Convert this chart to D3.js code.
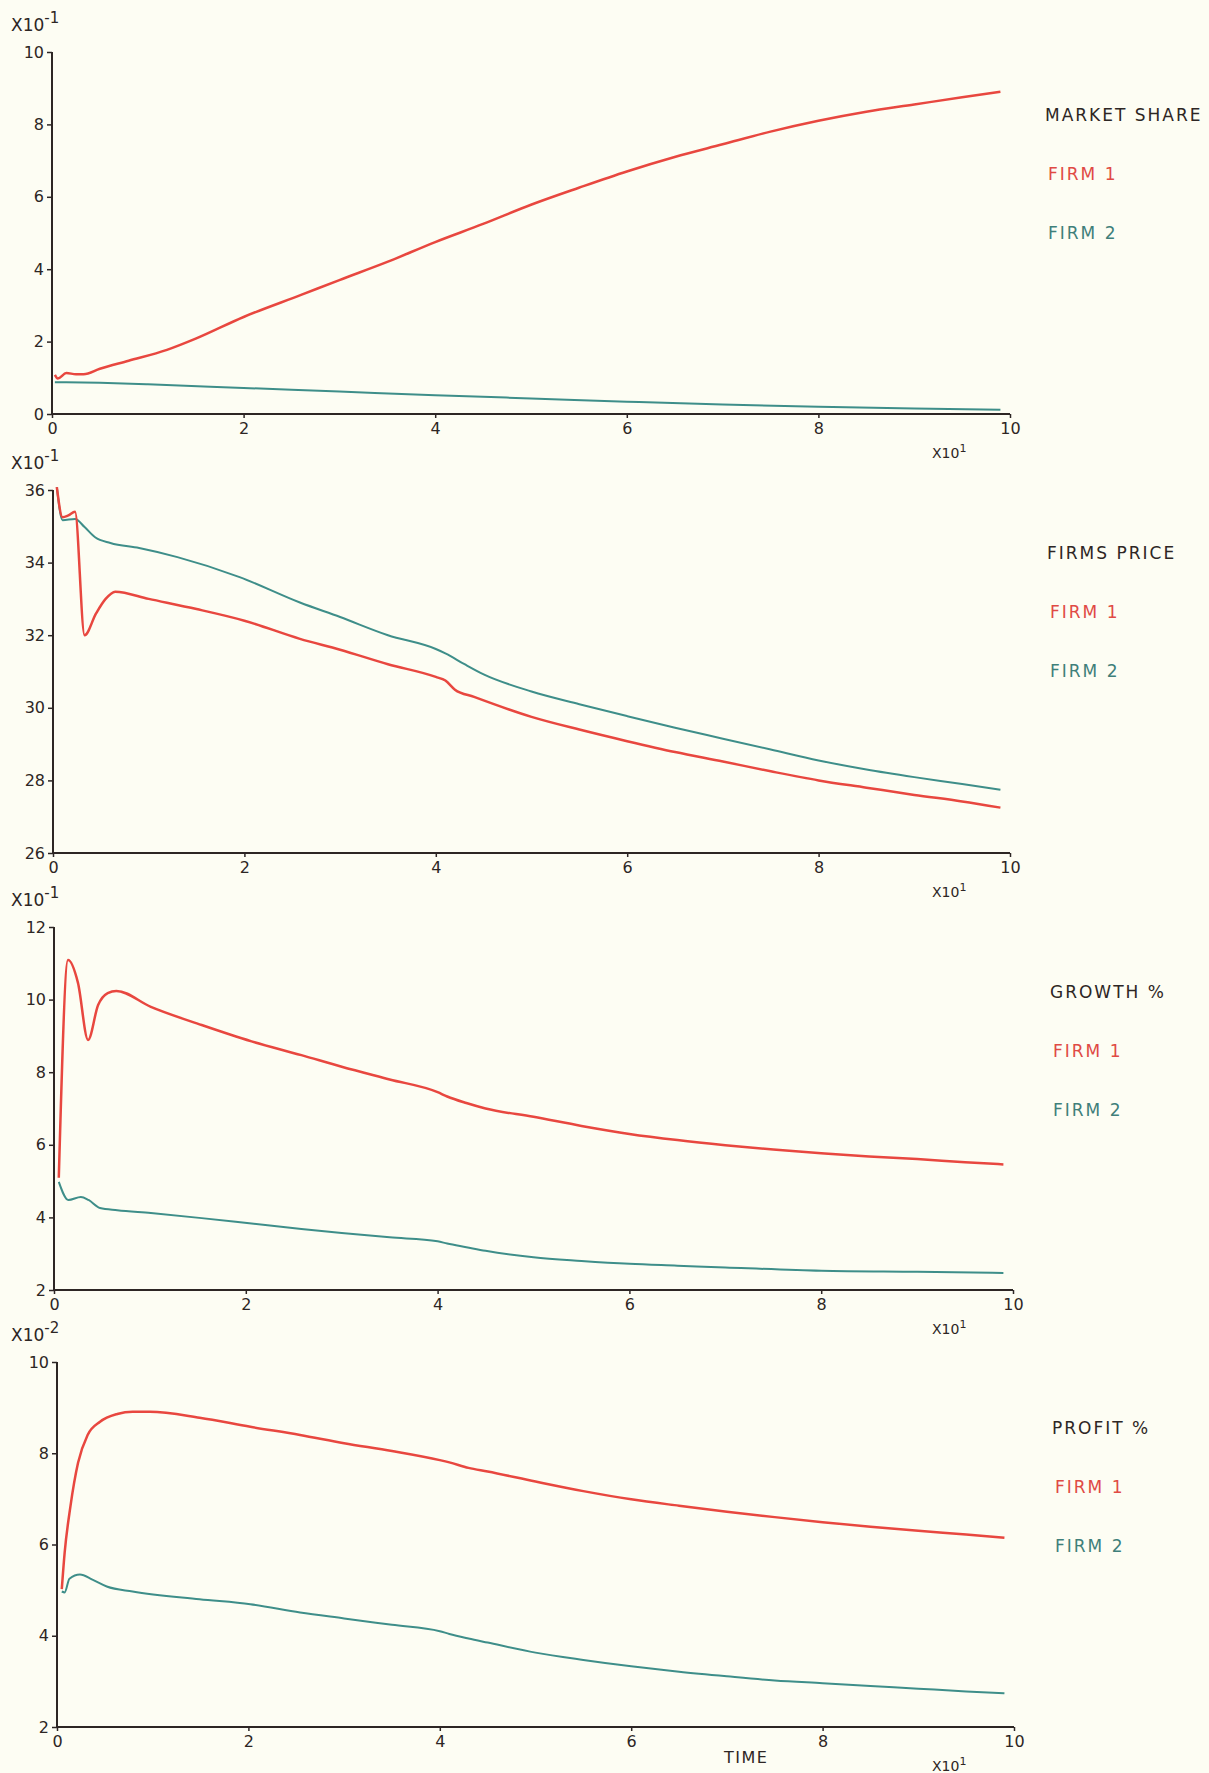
<!DOCTYPE html>
<html>
<head>
<meta charset="utf-8">
<script src="https://cdn.jsdelivr.net/npm/d3@7"></script>
<style>
  body { margin: 0; background: #fdfdf3; }
  text { font-family: "DejaVu Sans", sans-serif; }
</style>
</head>
<body>
<script>
// market share (x10^-1)
const shareTime1 = [0.3, 0.6, 1.5, 2.5, 3.3, 5, 8, 12, 15, 20, 26, 30, 35, 40, 45, 50, 55, 60, 65, 70, 75, 80, 85, 90, 95, 99];
const shareFirm1 = [1.08, 0.98, 1.13, 1.1, 1.1, 1.25, 1.47, 1.77, 2.08, 2.68, 3.29, 3.7, 4.2, 4.75, 5.25, 5.78, 6.25, 6.7, 7.1, 7.45, 7.8, 8.1, 8.35, 8.55, 8.75, 8.9];
const shareTime2 = [0.3, 5, 10, 20, 30, 40, 50, 60, 70, 80, 90, 99];
const shareFirm2 = [0.88, 0.86, 0.82, 0.72, 0.62, 0.52, 0.43, 0.34, 0.26, 0.2, 0.15, 0.12];

// firms price (x10^-1)
const priceTime1 = [0.4, 1, 1.6, 2.3, 3.3, 4.5, 5.5, 6.5, 10, 15, 20, 25.8, 30, 35, 40, 41, 42, 44, 50, 55, 60, 65, 70, 75, 80, 85, 90, 95, 99];
const priceFirm1 = [36.08, 35.25, 35.3, 35.4, 32.0, 32.6, 33.0, 33.2, 33.0, 32.72, 32.4, 31.9, 31.6, 31.2, 30.85, 30.75, 30.5, 30.3, 29.75, 29.4, 29.08, 28.78, 28.52, 28.25, 28.0, 27.8, 27.6, 27.42, 27.25];
const priceTime2 = [0.4, 1, 2.3, 3.3, 4.4, 6, 9, 13, 19.5, 25.8, 30, 35, 40, 41, 43, 45, 50, 55, 60, 65, 70, 75, 80, 85, 90, 95, 99];
const priceFirm2 = [36.08, 35.17, 35.2, 34.98, 34.7, 34.54, 34.4, 34.15, 33.6, 32.9, 32.5, 32.0, 31.62, 31.5, 31.2, 30.92, 30.45, 30.1, 29.77, 29.45, 29.15, 28.85, 28.55, 28.3, 28.09, 27.9, 27.74];

// growth % (x10^-1)
const growthTime1 = [0.5, 1.46, 2.5, 3.55, 4.6, 5.6, 6.5, 10.1, 15.4, 20.6, 25.8, 30, 35, 40, 41, 43, 45, 50, 55, 60, 65, 70, 75, 80, 85, 90, 95, 99];
const growthFirm1 = [5.09, 11.09, 10.46, 8.89, 9.85, 10.18, 10.24, 9.8, 9.3, 8.85, 8.47, 8.15, 7.8, 7.45, 7.33, 7.15, 7.0, 6.77, 6.52, 6.3, 6.13, 5.99, 5.87, 5.77, 5.68, 5.61, 5.52, 5.46];
const growthTime2 = [0.5, 1.5, 2.8, 3.6, 4.8, 6.6, 10.1, 15.4, 20.6, 25.8, 30, 35, 40, 41, 43, 45, 50, 55, 60, 65, 70, 80, 90, 99];
const growthFirm2 = [4.98, 4.48, 4.56, 4.48, 4.26, 4.2, 4.12, 3.98, 3.83, 3.68, 3.57, 3.45, 3.34, 3.28, 3.18, 3.08, 2.9, 2.8, 2.72, 2.67, 2.62, 2.53, 2.5, 2.47];

// profit % (x10^-2)
const profitTime1 = [0.5, 0.8, 1.4, 2.2, 3.2, 4.5, 6.3, 7.9, 9.7, 14.9, 20.2, 25.4, 30, 35, 40, 41, 43, 45, 50, 55, 60, 65, 70, 75, 80, 85, 90, 95, 99];
const profitFirm1 = [5.02, 5.82, 6.83, 7.79, 8.4, 8.69, 8.86, 8.91, 8.91, 8.78, 8.58, 8.4, 8.22, 8.05, 7.85, 7.8, 7.68, 7.6, 7.38, 7.17, 6.99, 6.85, 6.72, 6.6, 6.49, 6.39, 6.3, 6.22, 6.15];
const profitTime2 = [0.5, 0.8, 1.3, 2.4, 3.7, 5.2, 7.9, 14.9, 20.2, 25.4, 30, 35, 40, 41, 43, 45, 50, 55, 60, 65, 70, 75, 80, 85, 90, 95, 99];
const profitFirm2 = [4.97, 4.95, 5.25, 5.34, 5.23, 5.08, 4.97, 4.8, 4.69, 4.51, 4.38, 4.24, 4.1, 4.04, 3.94, 3.85, 3.63, 3.47, 3.33, 3.21, 3.11, 3.02, 2.96, 2.9, 2.84, 2.78, 2.74];

const timeTicks = [0, 20, 40, 60, 80, 100];
const legendNames = ['FIRM 1', 'FIRM 2'];

const W = 1209, H = 1773;
const ink = '#2d2624';
const red = '#e8473f';
const teal = '#3e8e89';

const svg = d3.select('body').append('svg')
  .attr('width', W)
  .attr('height', H);

svg.append('rect').attr('width', W).attr('height', H).attr('fill', '#fdfdf3');

const panels = [
  { title: 'MARKET SHARE', exp: '-1', yDomain: [0, 10], yTicks: [0, 2, 4, 6, 8, 10],
    left: 52, right: 1010, top: 52, bottom: 414, legendX: 1045, legendY: 115,
    t1: shareTime1, v1: shareFirm1, t2: shareTime2, v2: shareFirm2 },
  { title: 'FIRMS PRICE', exp: '-1', yDomain: [26, 36], yTicks: [26, 28, 30, 32, 34, 36],
    left: 53, right: 1010, top: 490, bottom: 853, legendX: 1047, legendY: 553,
    t1: priceTime1, v1: priceFirm1, t2: priceTime2, v2: priceFirm2 },
  { title: 'GROWTH %', exp: '-1', yDomain: [2, 12], yTicks: [2, 4, 6, 8, 10, 12],
    left: 54, right: 1013, top: 927, bottom: 1290, legendX: 1050, legendY: 992,
    t1: growthTime1, v1: growthFirm1, t2: growthTime2, v2: growthFirm2 },
  { title: 'PROFIT %', exp: '-2', yDomain: [2, 10], yTicks: [2, 4, 6, 8, 10],
    left: 57, right: 1014, top: 1362, bottom: 1727, legendX: 1052, legendY: 1428,
    t1: profitTime1, v1: profitFirm1, t2: profitTime2, v2: profitFirm2, timeLabel: true }
];

panels.forEach(p => {
  const x = d3.scaleLinear().domain([0, 100]).range([p.left, p.right]);
  const y = d3.scaleLinear().domain(p.yDomain).range([p.bottom, p.top]);
  const g = svg.append('g');

  // y axis
  const ya = g.append('g')
    .attr('transform', `translate(${p.left},0)`)
    .call(d3.axisLeft(y).tickValues(p.yTicks).tickSize(5).tickPadding(3).tickFormat(d3.format('d')));
  // x axis
  const xa = g.append('g')
    .attr('transform', `translate(0,${p.bottom})`)
    .call(d3.axisBottom(x).tickValues(timeTicks).tickSize(4).tickPadding(5).tickFormat(d => d / 10));

  [ya, xa].forEach(a => {
    a.select('.domain').attr('stroke', ink).attr('stroke-width', 2);
    a.selectAll('.tick line').attr('stroke', ink).attr('stroke-width', 1.5);
    a.selectAll('.tick text').attr('fill', ink).attr('font-size', 16);
  });
  xa.select('.domain').attr('d', `M${p.left},0H${p.right}`);
  ya.select('.domain').attr('d', `M0,${p.bottom}V${p.top}`);

  // exponent label above y axis
  const ex = g.append('text')
    .attr('x', 11).attr('y', p.top - 21)
    .attr('fill', ink).attr('font-size', 17);
  ex.append('tspan').text('X10');
  ex.append('tspan').attr('dy', -8).attr('font-size', 15).text(p.exp);

  // x10^1 below x axis
  const xx = g.append('text')
    .attr('x', 932).attr('y', p.bottom + 44)
    .attr('fill', ink).attr('font-size', 14);
  xx.append('tspan').text('X10');
  xx.append('tspan').attr('dy', -6).attr('font-size', 11).text('1');

  if (p.timeLabel) {
    g.append('text')
      .attr('x', 724).attr('y', p.bottom + 36)
      .attr('fill', ink).attr('font-size', 16).attr('letter-spacing', 1.5)
      .text('TIME');
  }

  const line = d3.line()
    .x(d => x(d[0]))
    .y(d => y(d[1]))
    .curve(d3.curveMonotoneX);

  g.append('path')
    .datum(d3.zip(p.t2, p.v2))
    .attr('d', line)
    .attr('fill', 'none')
    .attr('stroke', teal)
    .attr('stroke-width', 2);

  g.append('path')
    .datum(d3.zip(p.t1, p.v1))
    .attr('d', line)
    .attr('fill', 'none')
    .attr('stroke', red)
    .attr('stroke-width', 2.5);

  // legend
  g.append('text')
    .attr('x', p.legendX).attr('y', p.legendY)
    .attr('dy', '0.35em')
    .attr('fill', ink).attr('font-size', 17).attr('letter-spacing', 2)
    .text(p.title);

  g.selectAll('.leg')
    .data(legendNames)
    .enter()
    .append('text')
    .attr('x', p.legendX + 3)
    .attr('y', (d, i) => p.legendY + 59 * (i + 1))
    .attr('dy', '0.35em')
    .attr('fill', (d, i) => i === 0 ? '#e04a44' : '#3f7f7a')
    .attr('font-size', 17).attr('letter-spacing', 2)
    .text(d => d);
});
</script>
</body>
</html>
